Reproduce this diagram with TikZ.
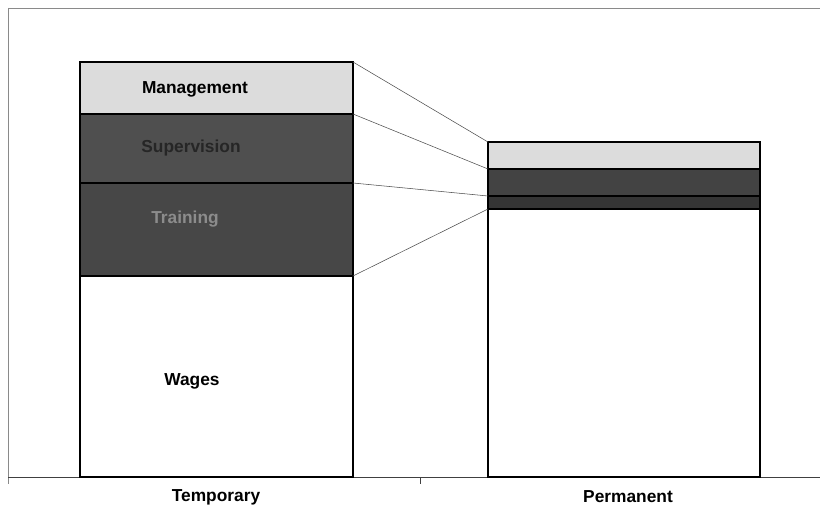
\documentclass[tikz,border=0pt]{standalone}
\usepackage{fontspec}
\setmainfont{Liberation Sans}
\usetikzlibrary{fit}
\definecolor{mgmt}{HTML}{DCDCDC}
\definecolor{superv}{HTML}{4F4F4F}
\definecolor{train}{HTML}{474747}
\definecolor{frame}{HTML}{8A8A8A}
\begin{document}
\begin{tikzpicture}[x=0.75pt,y=-0.75pt,
  seg/.style={draw=black, line width=0.8pt, inner sep=0pt, outer sep=0pt},
  lbl/.style={font=\fontsize{13}{15}\selectfont\bfseries, inner sep=0pt},
  conn/.style={draw=black!70, line width=0.4pt},
  frameline/.style={draw=frame, line width=0.6pt}]
\useasboundingbox (0,0) rectangle (820,510);
% frame
\coordinate (tl) at (8,8);
\coordinate (tr) at (820,8);
\coordinate (bl) at (8,477);
\coordinate (br) at (820,477);
\coordinate (bld) at (8,484);
\coordinate (tick) at (420,477);
\coordinate (tickd) at (420,484);
\draw[frameline] (tl) -- (tr);
\draw[frameline] (tl) -- (bld);
\draw[draw=black!75, line width=0.6pt] (bl) -- (br);
\draw[draw=black!75, line width=0.6pt] (tick) -- (tickd);
% Temporary bar
\node[seg, fill=mgmt, fit={(80,62)(353,114)}] (mT) {};
\node[seg, fill=superv, fit={(80,114)(353,183)}] (sT) {};
\node[seg, fill=train, fit={(80,183)(353,276)}] (tT) {};
\node[seg, fill=white, fit={(80,276)(353,477)}] (wT) {};
% Permanent bar
\node[seg, fill=mgmt, fit={(488,142)(760,169)}] (mP) {};
\node[seg, fill=superv!85!black, fit={(488,169)(760,196)}] (sP) {};
\node[seg, fill=train!110, fit={(488,196)(760,209)}] (tP) {};
\node[seg, fill=white, fit={(488,209)(760,477)}] (wP) {};
% connectors
\draw[conn] (mT.north east) -- (mP.north west);
\draw[conn] (sT.north east) -- (sP.north west);
\draw[conn] (tT.north east) -- (tP.north west);
\draw[conn] (wT.north east) -- (wP.north west);
% labels
\node[lbl] (lm) at (195,89) {Management};
\node[lbl, text=black!85] (ls) at (191,148) {Supervision};
\node[lbl, text=black!45] (lt) at (185,219) {Training};
\node[lbl] (lw) at (192,381) {Wages};
\node[lbl] (ltemp) at (216,497) {Temporary};
\node[lbl] (lperm) at (628,497) {Permanent};
\end{tikzpicture}
\end{document}
